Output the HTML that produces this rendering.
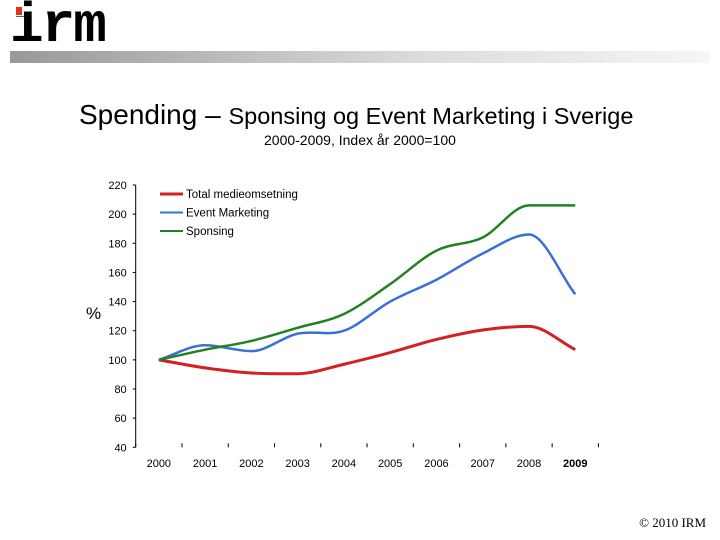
<!DOCTYPE html>
<html><head><meta charset="utf-8"><style>
body{margin:0;width:720px;height:540px;background:#fff;position:relative;overflow:hidden;font-family:"Liberation Sans",sans-serif}
.abs{position:absolute}
</style></head><body>
<div class="abs" style="left:10px;top:-4px;font-family:'Liberation Mono',monospace;font-weight:bold;font-size:56px;line-height:60px;color:#000;letter-spacing:-2px">irm</div>
<div class="abs" style="left:14px;top:6px;width:10px;height:10px;background:#fff"></div>
<div class="abs" style="left:16px;top:7px;width:6px;height:8px;background:#e03020"></div>
<div class="abs" style="left:10px;top:51px;width:700px;height:12px;background:linear-gradient(to right,#999,#ddd 60%,#f6f6f6)"></div>
<div class="abs" style="left:79px;top:99px;white-space:nowrap"><span style="font-size:28px">Spending – </span><span style="font-size:23.5px">Sponsing og Event Marketing i Sverige</span></div>
<div class="abs" style="left:264px;top:132px;font-size:14px;white-space:nowrap">2000-2009, Index år 2000=100</div>
<div class="abs" style="left:86px;top:304px;font-size:17px">%</div>
<div class="abs" style="right:14px;top:515px;font-family:'Liberation Serif',serif;font-size:13px">© 2010 IRM</div>
<svg class="abs" style="left:0;top:0" width="720" height="540" id="chart"></svg>
<script>
const categories=["2000","2001","2002","2003","2004","2005","2006","2007","2008","2009"];
const yTicks=[40,60,80,100,120,140,160,180,200,220];
const seriesNames=["Total medieomsetning","Event Marketing","Sponsing"];
const totalMedie=[100,94.5,91,90.5,97,105,114,120.5,123,107];
const eventMarketing=[100,110,106,118,120,140,155,173,186,145];
const sponsing=[100,107,113,122,131.5,152,175,184,206,206];
const colors=["#d42020","#3a6fd8","#238023"];
const svg=document.getElementById('chart');const NS="http://www.w3.org/2000/svg";
const x0=135.7,step=46.27,yb=447.3,yt=185;
function xs(i){return x0+step*(i+0.5);}
function ys(v){return yb-(v-40)/180*(yb-yt);}
function mk(t,a,p){const e=document.createElementNS(NS,t);for(const k in a)e.setAttribute(k,a[k]);(p||svg).appendChild(e);return e;}
const ax=mk('line',{x1:x0,y1:yt,x2:x0,y2:yb,stroke:'#000','stroke-width':1});


yTicks.forEach(v=>{const t=mk('text',{x:x0-9,y:ys(v)+4,'text-anchor':'end','font-size':11,fill:'#000','font-family':'Liberation Sans'});t.textContent=v;


mk('line',{x1:x0-3,y1:ys(v),x2:x0,y2:ys(v),stroke:'#000'});});
for(let i=0;i<=categories.length;i++){const l=mk('line',{x1:x0+step*i,y1:yb-4,x2:x0+step*i,y2:yb,stroke:'#000'});

}
categories.forEach((c,i)=>{const t=mk('text',{x:xs(i),y:467,'text-anchor':'middle','font-size':11,fill:'#000','font-family':'Liberation Sans','font-weight':i==9?'bold':'normal'});t.textContent=c;

});
function path(vals){const p=vals.map((v,i)=>[xs(i),ys(v)]);const n=p.length;
const dl=[];for(let i=0;i<n-1;i++)dl.push((p[i+1][1]-p[i][1])/(p[i+1][0]-p[i][0]));
const m=[];m[0]=dl[0];m[n-1]=dl[n-2];
for(let i=1;i<n-1;i++){m[i]=(dl[i-1]*dl[i]<=0)?0:(dl[i-1]+dl[i])/2;}
let d=`M${p[0][0]},${p[0][1]}`;
for(let i=0;i<n-1;i++){const h=(p[i+1][0]-p[i][0])/3;
d+=` C${p[i][0]+h},${p[i][1]+m[i]*h} ${p[i+1][0]-h},${p[i+1][1]-m[i+1]*h} ${p[i+1][0]},${p[i+1][1]}`;}return d;}
[totalMedie,eventMarketing,sponsing].forEach((s,k)=>{const l=mk('path',{d:path(s),fill:'none',stroke:colors[k],'stroke-width':k==0?3:2.5});


const ly=194+k*18.5;
const ll=mk('line',{x1:160,y1:ly,x2:183,y2:ly,stroke:colors[k],'stroke-width':k==0?3:2});


const lt=mk('text',{x:186,y:ly+4,'font-size':11.5,fill:'#000','font-family':'Liberation Sans'});lt.textContent=seriesNames[k];

});
</script>
</body></html>
